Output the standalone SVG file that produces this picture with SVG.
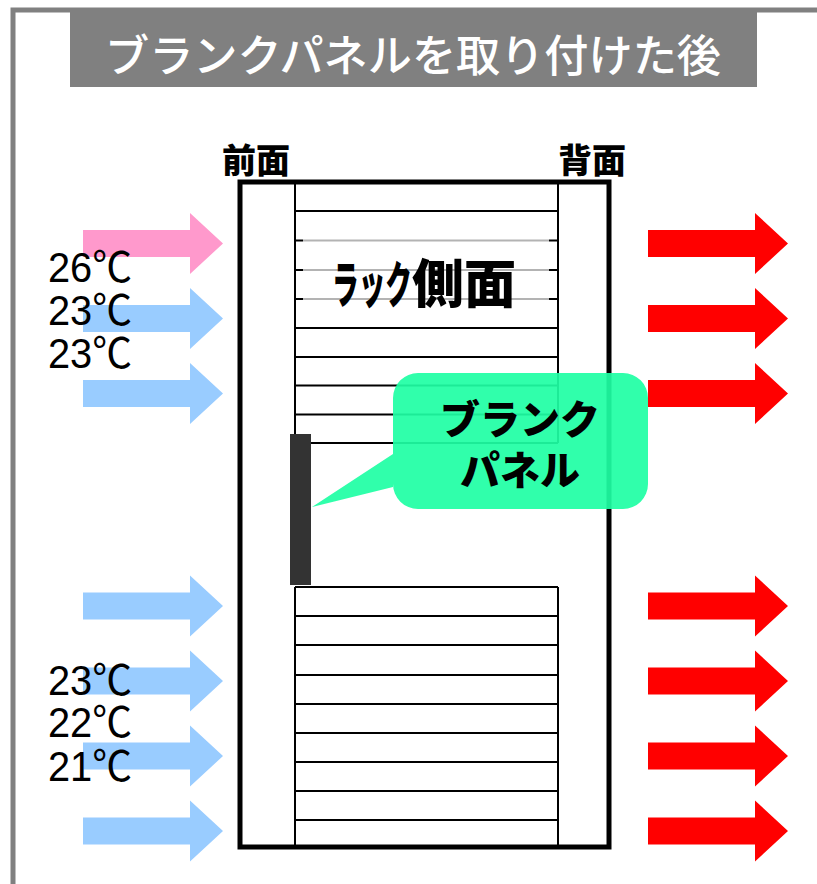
<svg xmlns="http://www.w3.org/2000/svg" width="817" height="884" viewBox="0 0 817 884">
<style>
.jp{font-family:"Noto Sans CJK JP","Noto Sans CJK SC",sans-serif}
.temp{font-family:"Liberation Sans","Noto Sans CJK JP",sans-serif;font-size:42px;fill:#000}
.shelf{stroke:#000;stroke-width:2;fill:none}
.pink{fill:#ff99cc}.blue{fill:#99ccff}.red{fill:#ff0000}
</style>
<defs>
<path id="arr" d="M0,-13.5 H107 V-30.5 L140,0 L107,30.5 V13.5 H0 Z"/>
</defs>
<rect width="817" height="884" fill="#fff"/>
<g id="frame">
<path d="M13,884 V10 H817" fill="none" stroke="#808080" stroke-width="5"/>
</g>
<g id="title">
<rect x="70" y="10" width="687" height="77" fill="#808080"/>
<text class="jp" x="105" y="72" font-size="44" font-weight="500" fill="#fff" textLength="616" lengthAdjust="spacingAndGlyphs">ブランクパネルを取り付けた後</text>
</g>
<g id="airflow">
<use href="#arr" x="83" y="243.5" class="pink"/>
<use href="#arr" x="83" y="318.5" class="blue"/>
<use href="#arr" x="83" y="393.5" class="blue"/>
<use href="#arr" x="83" y="606" class="blue"/>
<use href="#arr" x="83" y="681" class="blue"/>
<use href="#arr" x="83" y="756" class="blue"/>
<use href="#arr" x="83" y="831" class="blue"/>
<use href="#arr" x="648" y="243.5" class="red"/>
<use href="#arr" x="648" y="318.5" class="red"/>
<use href="#arr" x="648" y="393.5" class="red"/>
<use href="#arr" x="648" y="606" class="red"/>
<use href="#arr" x="648" y="681" class="red"/>
<use href="#arr" x="648" y="756" class="red"/>
<use href="#arr" x="648" y="831" class="red"/>
</g>
<g id="rack">
<rect x="240" y="182" width="369" height="665" fill="#fff" stroke="#000" stroke-width="5"/>
<g id="top-shelves" class="shelf">
<path d="M295,182 V443 M558,182 V443"/>
<path d="M295,211 H558 M295,240.5 H558 M295,270 H558 M295,299 H558 M295,328 H558 M295,357 H558 M295,385.5 H558 M295,414.5 H558 M295,443 H558"/>
</g>
<g id="bottom-shelves" class="shelf">
<path d="M295,587 V847 M558,587 V847"/>
<path d="M295,587 H558 M295,616 H558 M295,645 H558 M295,675 H558 M295,704 H558 M295,733 H558 M295,762 H558 M295,791 H558 M295,820 H558"/>
</g>
<rect x="303" y="228" width="246" height="84" fill="#fff" fill-opacity="0.7"/>
<text class="jp" x="332" y="303" font-weight="900" fill="#000"><tspan font-size="50" textLength="80" lengthAdjust="spacingAndGlyphs">ラック</tspan><tspan x="412" font-size="52">側面</tspan></text>
</g>
<g id="label-front">
<text class="jp" x="222" y="173" font-size="34" font-weight="900" fill="#000">前面</text>
</g>
<g id="label-back">
<text class="jp" x="558" y="173" font-size="34" font-weight="900" fill="#000">背面</text>
</g>
<g id="blank-panel">
<rect x="290" y="434" width="21" height="151" fill="#333333"/>
</g>
<g id="callout">
<path d="M418,373 H623 A25,25 0 0 1 648,398 V484 A25,25 0 0 1 623,509 H418 A25,25 0 0 1 393,484 V487 L312,507 L393,454 V398 A25,25 0 0 1 418,373 Z" fill="#1effa4" fill-opacity="0.92"/>
<text class="jp" font-size="40" font-weight="900" fill="#000" text-anchor="middle"><tspan x="520" y="434">ブランク</tspan><tspan x="520" y="485">パネル</tspan></text>
</g>
<g id="temps-top">
<text class="temp" x="48" y="282" textLength="84" lengthAdjust="spacingAndGlyphs">26℃</text>
<text class="temp" x="48" y="325" textLength="84" lengthAdjust="spacingAndGlyphs">23℃</text>
<text class="temp" x="48" y="368" textLength="84" lengthAdjust="spacingAndGlyphs">23℃</text>
</g>
<g id="temps-bottom">
<text class="temp" x="48" y="695" textLength="84" lengthAdjust="spacingAndGlyphs">23℃</text>
<text class="temp" x="48" y="737" textLength="84" lengthAdjust="spacingAndGlyphs">22℃</text>
<text class="temp" x="48" y="781" textLength="84" lengthAdjust="spacingAndGlyphs">21℃</text>
</g>
</svg>
